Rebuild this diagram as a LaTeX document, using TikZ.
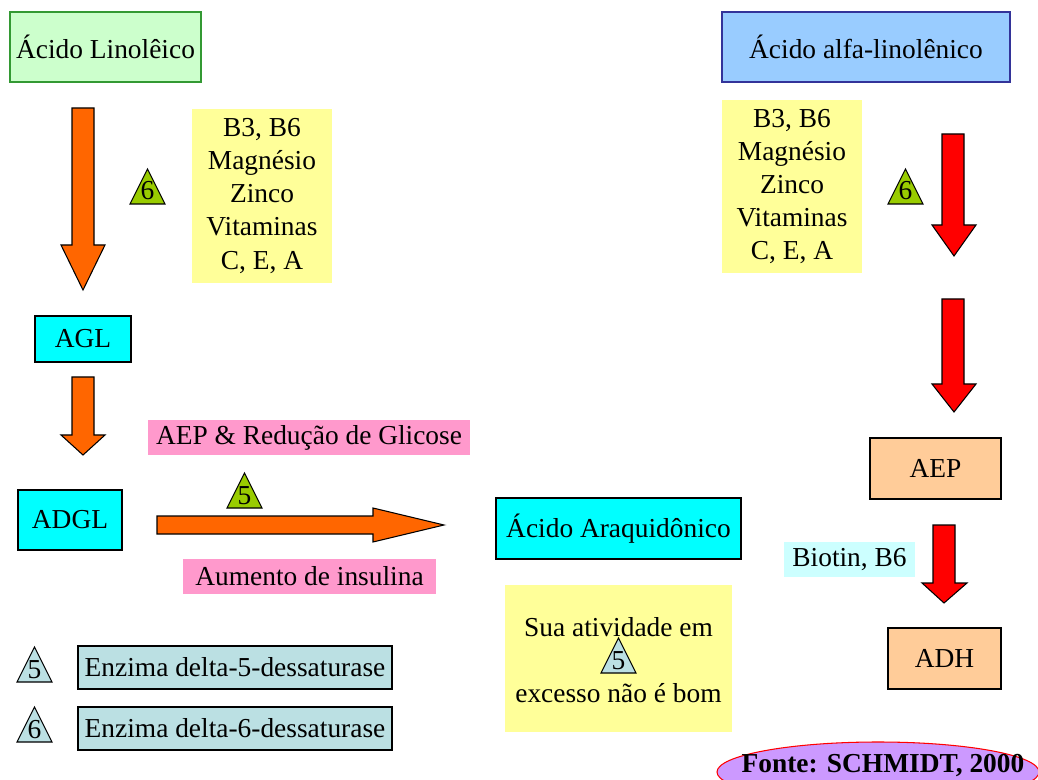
\documentclass[tikz,border=0pt]{standalone}
\usepackage{fontspec}
\setmainfont{Liberation Serif}
\usetikzlibrary{shapes.geometric}
\definecolor{lingreen}{HTML}{CCFFCC}
\definecolor{linborder}{HTML}{339933}
\definecolor{alfablue}{HTML}{99CCFF}
\definecolor{alfaborder}{HTML}{333399}
\definecolor{vityellow}{HTML}{FFFF99}
\definecolor{acidcyan}{HTML}{00FFFF}
\definecolor{arrorange}{HTML}{FF6600}
\definecolor{arrred}{HTML}{FF0000}
\definecolor{trigreen}{HTML}{99CC00}
\definecolor{legblue}{HTML}{BBE0E3}
\definecolor{notepink}{HTML}{FF99CC}
\definecolor{peach}{HTML}{FFCC99}
\definecolor{biotincol}{HTML}{CCFFFF}
\definecolor{fontecol}{HTML}{CC99FF}
\newcommand\mainsz{\fontsize{15.6}{18.8}\selectfont}
% #1 name, #2 left x, #3 top y, #4 fill colour, #5 digit
\newcommand\enztri[5]{%
  \draw[fill=#4, line width=0.6pt, line join=miter] (#2,#3+35) -- (#2+17.5,#3) -- (#2+35,#3+35) -- cycle;
  \node[anchor=base, inner sep=0pt, font=\mainsz] (#1) at (#2+17.5,#3+31) {#5};}
\begin{document}
\begin{tikzpicture}[x=0.02cm,y=-0.02cm,
  sz/.style 2 args={minimum width=#1*0.02cm, minimum height=#2*0.02cm},
  box/.style={draw=black, line width=0.6pt, inner sep=0pt, font=\mainsz, align=center},
  plain/.style={draw=none, inner sep=0pt, font=\mainsz, align=center},
  blockarrow/.style={draw=black, line width=0.6pt, line join=miter}]
\useasboundingbox (0,0) rectangle (1038,780);
\clip (0,0) rectangle (1038,780);

% top boxes
\node[box, draw=linborder, fill=lingreen, sz={191}{70}] (lin) at (105.5,47) {\'Acido Linol\^eico};
\node[box, draw=alfaborder, fill=alfablue, sz={288}{70}] (alfa) at (866,47) {\'Acido alfa-linol\^enico};

% vitamin boxes
\node[plain, fill=vityellow, sz={140}{174}] (vitL) at (262,196) {B3, B6\\Magn\'esio\\Zinco\\Vitaminas\\C, E, A};
\node[plain, fill=vityellow, sz={140}{173}] (vitR) at (792,186.5) {B3, B6\\Magn\'esio\\Zinco\\Vitaminas\\C, E, A};

% triangles
\enztri{t6L}{130}{169}{trigreen}{6}
\enztri{t6R}{888}{169}{trigreen}{6}
\enztri{t5mid}{227}{473}{trigreen}{5}

% left column
\node[box, fill=acidcyan, sz={96}{46}] (agl) at (83,339) {AGL};
\node[box, fill=acidcyan, sz={104}{60}] (adgl) at (70,520) {ADGL};
\node[box, fill=acidcyan, sz={245}{61}] (ara) at (618.5,528.5) {\'Acido Araquid\^onico};

% orange arrows
\draw[blockarrow, fill=arrorange] (72,108) -- (94,108) -- (94,245) -- (105,245) -- (83,290) -- (61,245) -- (72,245) -- cycle;
\draw[blockarrow, fill=arrorange] (72,377) -- (94,377) -- (94,435) -- (105,435) -- (83,455) -- (61,435) -- (72,435) -- cycle;
\draw[blockarrow, fill=arrorange] (157,516) -- (373,516) -- (373,508) -- (444,525) -- (373,542) -- (373,534) -- (157,534) -- cycle;

% pink notes
\node[plain, fill=notepink, sz={322}{35}] (glic) at (309,437.5) {AEP \& Redu\c{c}\~ao de Glicose};
\node[plain, fill=notepink, sz={253}{35}] (insul) at (309.5,576.5) {Aumento de insulina};

% bottom yellow note
\node[plain, fill=vityellow, sz={227}{147}] (note) at (618.5,658.5) {};
\node[plain, anchor=base] (noteA) at (618.5,636) {Sua atividade em};
\enztri{t5note}{601}{638}{legblue}{5}
\node[plain, anchor=base] (noteB) at (618.5,702) {excesso n\~ao \'e bom};

% right column
\draw[blockarrow, fill=arrred] (942,134) -- (964,134) -- (964,225) -- (976,225) -- (954,256) -- (932,225) -- (942,225) -- cycle;
\draw[blockarrow, fill=arrred] (942,299) -- (964,299) -- (964,384) -- (976,384) -- (954,412) -- (932,384) -- (942,384) -- cycle;
\node[box, fill=peach, sz={131}{61}] (aep) at (935.5,468.5) {AEP};
\draw[blockarrow, fill=arrred] (933,525) -- (955,525) -- (955,583) -- (967,583) -- (944,603) -- (922,583) -- (933,583) -- cycle;
\node[plain, fill=biotincol, sz={131}{35}] (bio) at (849.5,559.5) {Biotin, B6};
\node[box, fill=peach, sz={113}{61}] (adh) at (944.5,658.5) {ADH};

% legend
\enztri{t5leg}{17}{647}{legblue}{5}
\node[box, fill=legblue, sz={314}{43}] (leg5) at (235,667.5) {Enzima delta-5-dessaturase};
\enztri{t6leg}{17}{707}{legblue}{6}
\node[box, fill=legblue, sz={314}{43}] (leg6) at (235,728.5) {Enzima delta-6-dessaturase};

% source
\draw[draw=red, line width=0.6pt, fill=fontecol] (878,772) ellipse [x radius=161, y radius=30];
\node[plain, anchor=base, font=\mainsz\bfseries] (src) at (883,772) {Fonte: SCHMIDT, 2000};
\end{tikzpicture}
\end{document}
